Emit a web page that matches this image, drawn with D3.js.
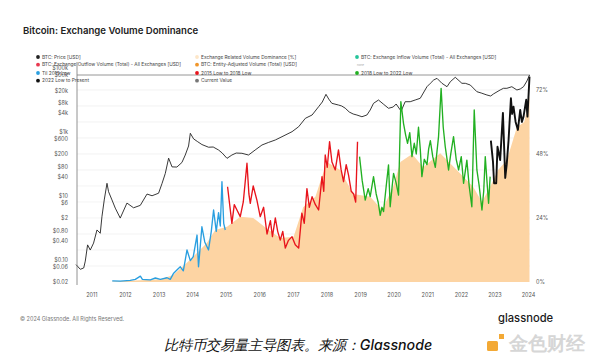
<!DOCTYPE html>
<html>
<head>
<meta charset="utf-8">
<script src="https://cdn.jsdelivr.net/npm/d3@7"></script>
<style>
  body { margin: 0; background: #fff; }
  text { font-family: Inter, "Noto Sans", sans-serif; }
</style>
</head>
<body>
<script>

// BTC price (USD)
var priceData = [
  ["2010-07-18", 0.07], ["2010-09-03", 0.05], ["2010-10-10", 0.055], ["2010-10-27", 0.09],
  ["2010-11-21", 0.29], ["2010-12-20", 0.20], ["2011-01-25", 0.33], ["2011-03-03", 0.85],
  ["2011-04-08", 0.67], ["2011-04-26", 2.2], ["2011-05-21", 7.4], ["2011-06-20", 24.5],
  ["2011-07-07", 13.4], ["2011-08-13", 7.4], ["2011-09-18", 4.1], ["2011-11-11", 2.0],
  ["2012-01-23", 5.9], ["2012-04-04", 4.2], ["2012-06-16", 5.0], ["2012-08-28", 11.3],
  ["2012-10-22", 10], ["2013-01-01", 12], ["2013-02-08", 24.5], ["2013-03-15", 50],
  ["2013-04-20", 150], ["2013-05-27", 80], ["2013-07-19", 79], ["2013-09-12", 110],
  ["2013-10-18", 188], ["2013-11-23", 360], ["2013-12-12", 900], ["2014-01-17", 600],
  ["2014-02-26", 500], ["2014-04-17", 400], ["2014-06-28", 330], ["2014-08-18", 335],
  ["2014-10-15", 270], ["2014-11-24", 217], ["2015-01-15", 148], ["2015-03-09", 188],
  ["2015-04-25", 217], ["2015-06-26", 213], ["2015-09-06", 188], ["2015-11-17", 270],
  ["2016-01-30", 387], ["2016-04-08", 463], ["2016-06-23", 555], ["2016-09-04", 704],
  ["2016-12-22", 1009], ["2017-03-04", 1446], ["2017-05-16", 2650], ["2017-07-28", 3360],
  ["2017-10-07", 6110], ["2017-11-16", 8570], ["2017-12-26", 14900], ["2018-01-25", 10600],
  ["2018-02-28", 7800], ["2018-05-11", 6900], ["2018-06-15", 6430], ["2018-07-23", 5500],
  ["2018-09-05", 4170], ["2018-10-18", 3610], ["2018-11-27", 3360], ["2019-01-21", 2970],
  ["2019-03-16", 3360], ["2019-04-21", 4820], ["2019-05-27", 7800], ["2019-07-20", 9900],
  ["2019-09-10", 7420], ["2019-11-06", 5450], ["2019-12-27", 5980], ["2020-01-28", 7420],
  ["2020-03-22", 4430], ["2020-05-05", 8760], ["2020-06-29", 8760], ["2020-08-22", 9900],
  ["2020-10-16", 11200], ["2020-12-28", 25800], ["2021-02-03", 33000], ["2021-03-11", 41800],
  ["2021-04-16", 47200], ["2021-06-09", 33000], ["2021-08-03", 25800], ["2021-09-08", 37000],
  ["2021-11-01", 50800], ["2022-01-12", 33000], ["2022-02-18", 33000], ["2022-04-13", 29200],
  ["2022-06-24", 18000], ["2022-08-10", 16400], ["2022-10-11", 14200], ["2022-11-21", 13200],
  ["2022-12-21", 15300], ["2023-03-04", 20400], ["2023-04-09", 23000], ["2023-05-16", 23000],
  ["2023-07-09", 25800], ["2023-09-02", 20400], ["2023-10-08", 21900], ["2023-11-13", 25800],
  ["2023-12-20", 38900], ["2024-01-17", 60000]
];

// Exchange related volume dominance (%), one array per cycle
var domTil2015 = [
  ["2011-08-16", 0.4], ["2011-11-11", 0.3], ["2012-02-28", 0.6], ["2012-04-23", 1.0],
  ["2012-06-17", 2.2], ["2012-07-09", 1.0], ["2012-10-03", 0.8], ["2012-11-27", 1.5],
  ["2013-01-20", 1.0], ["2013-04-03", 1.6], ["2013-05-08", 1.0], ["2013-06-14", 3.3],
  ["2013-07-19", 4.5], ["2013-08-25", 5.7], ["2013-09-27", 4.2], ["2013-11-06", 12],
  ["2013-12-12", 8], ["2014-01-13", 9.5], ["2014-02-23", 17.6], ["2014-03-11", 5.7],
  ["2014-04-17", 20.7], ["2014-05-18", 15], ["2014-06-28", 12], ["2014-07-28", 19],
  ["2014-08-22", 27], ["2014-09-20", 19], ["2014-10-15", 26], ["2014-11-03", 21],
  ["2014-11-21", 37.6], ["2014-12-10", 22], ["2014-12-27", 19.5]
];
var dom2015to2018 = [
  ["2015-01-21", 35.7], ["2015-03-09", 22], ["2015-04-04", 29], ["2015-05-03", 27],
  ["2015-06-08", 24.5], ["2015-07-11", 30], ["2015-08-20", 44.5], ["2015-09-10", 33],
  ["2015-09-25", 29.5], ["2015-10-27", 36], ["2015-12-06", 30.7], ["2016-01-11", 24.5],
  ["2016-02-17", 28], ["2016-03-25", 18], ["2016-05-01", 23], ["2016-05-23", 17],
  ["2016-06-23", 24], ["2016-07-19", 19], ["2016-08-16", 15.7], ["2016-09-12", 19],
  ["2016-10-10", 12.7], ["2016-11-11", 15.5], ["2016-12-22", 17], ["2017-01-26", 14],
  ["2017-03-04", 12.7], ["2017-04-08", 25.8], ["2017-05-04", 22], ["2017-06-02", 35],
  ["2017-06-28", 28], ["2017-07-28", 32], ["2017-09-02", 29], ["2017-10-07", 27],
  ["2017-11-13", 39.5], ["2017-12-02", 34], ["2017-12-18", 47.6], ["2018-01-09", 43],
  ["2018-02-03", 52.6], ["2018-03-01", 45], ["2018-04-06", 42], ["2018-05-11", 49.5],
  ["2018-06-09", 42], ["2018-07-05", 37.6], ["2018-08-03", 44], ["2018-08-29", 40],
  ["2018-09-27", 34], ["2018-10-23", 33], ["2018-11-14", 30], ["2018-12-04", 52.6]
];
var dom2018to2022 = [
  ["2018-12-26", 47], ["2019-01-24", 38], ["2019-02-26", 30.7], ["2019-03-30", 35],
  ["2019-04-21", 32], ["2019-05-27", 39.5], ["2019-06-25", 33], ["2019-07-16", 30],
  ["2019-08-08", 25], ["2019-08-26", 28], ["2019-09-13", 26.4], ["2019-10-12", 36],
  ["2019-11-06", 43.9], ["2019-11-24", 28.2], ["2019-12-16", 36], ["2019-12-31", 40.7],
  ["2020-01-29", 37], ["2020-02-23", 32.6], ["2020-03-19", 67.6], ["2020-04-17", 59.5],
  ["2020-05-11", 55], ["2020-05-31", 52], ["2020-06-24", 56], ["2020-07-18", 47],
  ["2020-08-12", 52], ["2020-09-03", 48], ["2020-09-27", 58], ["2020-10-16", 50],
  ["2020-11-03", 39.5], ["2020-11-29", 46], ["2020-12-28", 44], ["2021-01-16", 50],
  ["2021-02-03", 53], ["2021-03-01", 47], ["2021-03-29", 43], ["2021-05-03", 54.5],
  ["2021-05-31", 72.6], ["2021-06-23", 58], ["2021-07-15", 50.7], ["2021-08-20", 42],
  ["2021-09-13", 48], ["2021-10-13", 54.5], ["2021-11-11", 46], ["2021-12-07", 42],
  ["2022-01-05", 47], ["2022-01-30", 37], ["2022-03-07", 45.7], ["2022-04-01", 36],
  ["2022-04-30", 28.2], ["2022-05-26", 64.5], ["2022-06-24", 42], ["2022-07-19", 36],
  ["2022-08-18", 27], ["2022-09-06", 34], ["2022-09-23", 47], ["2022-10-11", 38],
  ["2022-10-29", 29.5], ["2022-11-15", 39.5]
];
var dom2022toNow = [
  ["2022-11-23", 53], ["2022-12-16", 45], ["2022-12-28", 37], ["2023-01-20", 37],
  ["2023-02-03", 50.7], ["2023-03-04", 45.7], ["2023-04-03", 63.4], ["2023-04-28", 39],
  ["2023-05-14", 44], ["2023-06-03", 53], ["2023-06-29", 68.9], ["2023-07-12", 63],
  ["2023-07-27", 65.7], ["2023-08-19", 60], ["2023-09-13", 57], ["2023-10-08", 64.5],
  ["2023-10-26", 60], ["2023-11-13", 62], ["2023-12-12", 68.3], ["2023-12-26", 62],
  ["2024-01-17", 77]
];

// smoothed dominance drawn as the filled area
var domArea = [
  ["2011-08-16", 0.2], ["2012-06-17", 0.7], ["2013-01-20", 1.0], ["2013-06-10", 2.6],
  ["2013-10-30", 7], ["2014-01-13", 9.5], ["2014-06-10", 14.6], ["2014-09-09", 19.5],
  ["2015-01-15", 20.7], ["2015-06-08", 24.5], ["2015-10-27", 24], ["2016-03-25", 20],
  ["2016-08-16", 16.5], ["2017-01-08", 17], ["2017-04-22", 28], ["2017-09-02", 32],
  ["2018-01-04", 45], ["2018-05-29", 42], ["2018-10-18", 33], ["2019-04-21", 32],
  ["2019-08-29", 27], ["2019-12-27", 35.7], ["2020-03-14", 45], ["2020-07-20", 48],
  ["2020-11-17", 43], ["2021-05-21", 48.3], ["2021-11-17", 42], ["2022-05-14", 35.7],
  ["2022-08-18", 30], ["2022-11-15", 35.7], ["2023-02-10", 42], ["2023-05-16", 45.7],
  ["2023-09-02", 58], ["2023-11-21", 60], ["2024-01-17", 69.5]
];

var currentValue = 77.6;

var priceTicks = [0.02, 0.06, 0.1, 0.4, 0.8, 2, 6, 10, 40, 80, 200, 600, 1000, 4000, 8000, 20000, 60000, 100000];
var priceTickLabels = ["$0.02", "$0.06", "$0.10", "$0.40", "$0.80", "$2", "$6", "$10", "$40", "$80",
                       "$200", "$600", "$1k", "$4k", "$8k", "$20k", "$60k", "$100k"];
var domTicks = [0, 24, 48, 72];
var gridTicks = [6, 12, 18, 24, 30, 36, 42, 48, 54, 60, 66, 72];

var legendCols = [
  [["BTC: Price [USD]", "#222"],
   ["BTC: Exchange Outflow Volume (Total) - All Exchanges [USD]", "#e8384f"],
   ["Til 2015 Low", "#2a9fe0"],
   ["2022 Low to Present", "#111"]],
  [["Exchange Related Volume Dominance [%]", "#fde6c8"],
   ["BTC: Entity-Adjusted Volume (Total) [USD]", "#f0962a"],
   ["2015 Low to 2018 Low", "#e8141c"],
   ["Current Value", "#777"]],
  [["BTC: Exchange Inflow Volume (Total) - All Exchanges [USD]", "#25c49a"],
   ["none", null],
   ["2018 Low to 2022 Low", "#22b022"]]
];

var width = 600,
    height = 361,
    plotLeft = 77,
    plotRight = 530,
    plotTop = 75,
    plotBottom = 282;

var parse = d3.timeParse("%Y-%m-%d");

var svg = d3.select("body").append("svg")
    .attr("width", width)
    .attr("height", height);

var x = d3.scaleTime()
    .domain([parse("2010-07-18"), parse("2024-01-17")])
    .range([76, 529.5]);

var yPrice = d3.scaleLog()
    .domain([0.02, 60000])
    .range([plotBottom, plotTop]);

var yDom = d3.scaleLinear()
    .domain([0, 77.6])
    .range([plotBottom, plotTop]);

// title
svg.append("text")
    .attr("x", 23)
    .attr("y", 34)
    .attr("font-size", 9.6)
    .attr("font-weight", 600)
    .attr("fill", "#222")
    .text("Bitcoin: Exchange Volume Dominance");

// grid
svg.append("g").selectAll("line")
    .data(gridTicks)
    .enter().append("line")
    .attr("x1", plotLeft)
    .attr("x2", plotRight)
    .attr("y1", function(d) { return yDom(d); })
    .attr("y2", function(d) { return yDom(d); })
    .attr("stroke", "#ebebeb")
    .attr("stroke-width", 0.6);

// dominance area
var area = d3.area()
    .x(function(d) { return x(parse(d[0])); })
    .y0(yDom(0))
    .y1(function(d) { return yDom(d[1]); });

svg.append("path")
    .datum(domArea)
    .attr("d", area)
    .attr("fill", "#fdd4a3");

// current value line
svg.append("line")
    .attr("x1", plotLeft)
    .attr("x2", plotRight)
    .attr("y1", yDom(currentValue))
    .attr("y2", yDom(currentValue))
    .attr("stroke", "#8a8a8a")
    .attr("stroke-width", 0.9);

// price line
var priceLine = d3.line()
    .x(function(d) { return x(parse(d[0])); })
    .y(function(d) { return yPrice(d[1]); });

svg.append("path")
    .datum(priceData)
    .attr("d", priceLine)
    .attr("fill", "none")
    .attr("stroke", "#222")
    .attr("stroke-width", 0.9);

// dominance lines by cycle
var domLine = d3.line()
    .x(function(d) { return x(parse(d[0])); })
    .y(function(d) { return yDom(d[1]); });

var cycles = [
  [domTil2015, "#2a9fe0", 1.35],
  [dom2015to2018, "#e8141c", 1.35],
  [dom2018to2022, "#22b022", 1.35],
  [dom2022toNow, "#111", 1.9]
];

svg.append("g").selectAll("path")
    .data(cycles)
    .enter().append("path")
    .attr("d", function(d) { return domLine(d[0]); })
    .attr("fill", "none")
    .attr("stroke", function(d) { return d[1]; })
    .attr("stroke-width", function(d) { return d[2]; })
    .attr("stroke-linejoin", "round");

// left axis
svg.append("line")
    .attr("x1", plotLeft).attr("x2", plotLeft)
    .attr("y1", 62).attr("y2", 285)
    .attr("stroke", "#777")
    .attr("stroke-width", 0.8);

var leftAxis = svg.append("g")
    .attr("transform", "translate(" + (plotLeft - 6) + ",0)")
    .call(d3.axisLeft(yPrice)
          .tickValues(priceTicks)
          .tickFormat(function(d, i) { return priceTickLabels[i]; })
          .tickSize(0));
leftAxis.select(".domain").remove();
leftAxis.selectAll("text")
    .attr("font-family", "Inter, sans-serif")
    .attr("font-size", 5.5)
    .attr("fill", "#555");

// right axis
var rightAxis = svg.append("g")
    .attr("transform", "translate(" + (plotRight + 3) + ",0)")
    .call(d3.axisRight(yDom)
          .tickValues(domTicks)
          .tickFormat(function(d) { return d + "%"; })
          .tickSize(0));
rightAxis.select(".domain").remove();
rightAxis.selectAll("text")
    .attr("font-family", "Inter, sans-serif")
    .attr("font-size", 5.5)
    .attr("fill", "#555");

// bottom axis
var xAxis = svg.append("g")
    .attr("transform", "translate(0,290)")
    .call(d3.axisBottom(x)
          .ticks(d3.timeYear.every(1))
          .tickFormat(d3.timeFormat("%Y"))
          .tickSize(0));
xAxis.select(".domain").remove();
xAxis.selectAll("text")
    .attr("font-family", "Inter, sans-serif")
    .attr("font-size", 5.5)
    .attr("fill", "#555");

// legend
var colX = [38, 197, 357],
    rowY = [57, 64.7, 73, 80.7];

legendCols.forEach(function(col, ci) {
    var g = svg.append("g");
    col.forEach(function(item, ri) {
        if (item[1]) {
            g.append("circle")
                .attr("cx", colX[ci])
                .attr("cy", rowY[ri])
                .attr("r", 1.9)
                .attr("fill", item[1]);
            g.append("text")
                .attr("x", colX[ci] + 4)
                .attr("y", rowY[ri] + 1.7)
                .attr("font-size", 4.8)
                .attr("fill", "#444")
                .text(item[0]);
        } else {
            g.append("text")
                .attr("x", colX[ci])
                .attr("y", rowY[ri] + 1.2)
                .attr("font-size", 3)
                .attr("fill", "#aaa")
                .text(item[0]);
        }
    });
});

// footer
svg.append("text")
    .attr("x", 20)
    .attr("y", 321)
    .attr("font-size", 5.5)
    .attr("fill", "#777")
    .text("\u00a9 2024 Glassnode. All Rights Reserved.");

svg.append("text")
    .attr("x", 498)
    .attr("y", 322)
    .attr("font-size", 11.2)
    .attr("font-weight", 500)
    .attr("fill", "#1a1a1a")
    .text("glassnode");

svg.append("text")
    .attr("x", 298)
    .attr("y", 350)
    .attr("text-anchor", "middle")
    .attr("font-family", "'Noto Sans CJK SC', sans-serif")
    .attr("font-style", "italic")
    .attr("font-size", 14.2)
    .attr("font-weight", 500)
    .attr("fill", "#111")
    .text("比特币交易量主导图表。来源：Glassnode");

// 金色财经 mark
svg.append("rect")
    .attr("x", 487).attr("y", 341)
    .attr("width", 11).attr("height", 10)
    .attr("rx", 1.5)
    .attr("fill", "#f3a935");
svg.append("rect")
    .attr("x", 499).attr("y", 334)
    .attr("width", 5).attr("height", 5)
    .attr("fill", "#f3a935");
svg.append("text")
    .attr("x", 509)
    .attr("y", 350)
    .attr("font-family", "'Noto Sans CJK SC', sans-serif")
    .attr("font-size", 19)
    .attr("font-weight", 700)
    .attr("fill", "#d6d6d6")
    .text("金色财经");

</script>
</body>
</html>
